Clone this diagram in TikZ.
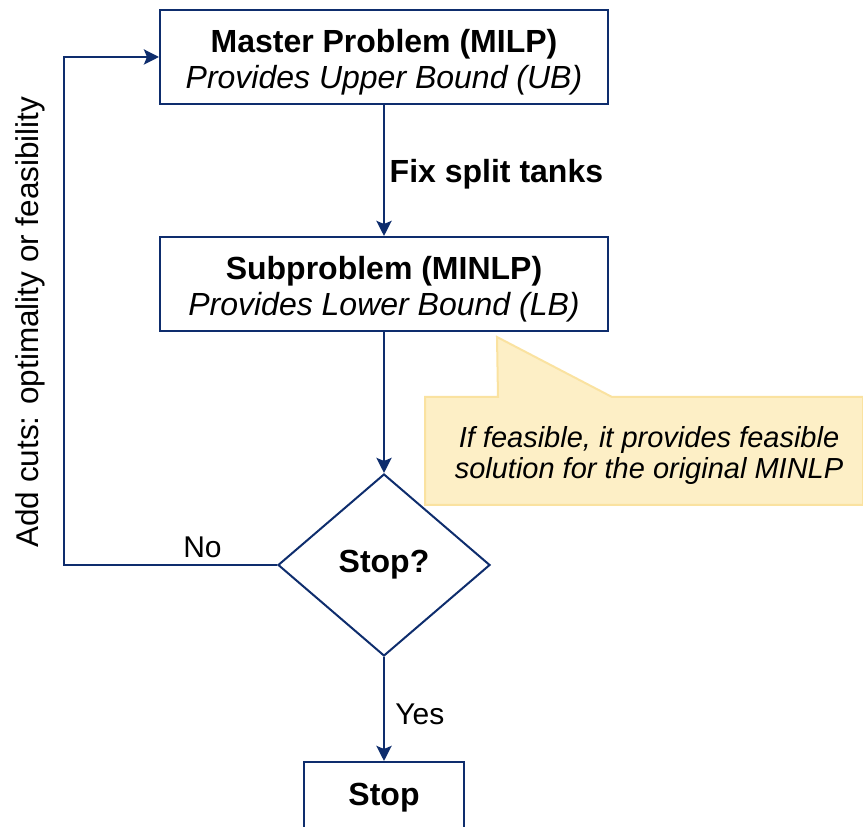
\documentclass[tikz,border=0pt]{standalone}
\usepackage{fontspec}
\setmainfont{Liberation Sans}
\usetikzlibrary{positioning,shapes.geometric,arrows.meta}
\definecolor{navy}{HTML}{0E2D6D}
\definecolor{notefill}{HTML}{FDEFC6}
\definecolor{noteline}{HTML}{FAE2A0}
\newcommand{\topgap}{\rule{0pt}{34pt}}

\begin{document}
\begin{tikzpicture}[x=1pt, y=1pt,
  every node/.style = {align=center, font=\fontsize{32}{36}\selectfont},
  box/.style = {shape=rectangle, draw=navy, line width=2pt, minimum width=448pt, minimum height=94pt, inner sep=0pt},
  decision/.style = {shape=diamond, draw=navy, line width=2pt, minimum width=212pt, minimum height=182pt, inner sep=0pt},
  arrow/.style = {draw=navy, line width=2.8pt, -{Stealth[length=15pt, width=15pt, inset=3pt]}},
  label/.style = {inner sep=2pt, font=\fontsize{30}{34}\selectfont}
  ]
  \useasboundingbox (0,0) rectangle (863,827);

  \node[box] (master) at (384,770) {\topgap\textbf{Master Problem (MILP)}\\ \textit{Provides Upper Bound (UB)}};
  \node[box, below=131pt of master] (sub) {\topgap\textbf{Subproblem (MINLP)}\\ \textit{Provides Lower Bound (LB)}};
  \node[decision, below=141pt of sub] (stopq) {\textbf{Stop?}};
  \node[box, minimum width=160pt, minimum height=72pt, below=104pt of stopq] (stop) {\textbf{Stop}};
  \coordinate (back) at (64,0);

  % callout
  \coordinate (tip) at (497,490);
  \filldraw[fill=notefill, draw=noteline, line width=2pt]
    (425,430) -- (498,430) -- (tip) -- (612,430) -- (863,430) -- (863,322) -- (425,322) -- cycle;
  \node[font=\fontsize{29}{31}\selectfont\itshape] (note) at (649,371) {If feasible, it provides feasible\\ solution for the original MINLP};

  \draw[arrow] (master) -- node[right=1pt, pos=0.53, font=\fontsize{32}{36}\selectfont\bfseries] (fix) {Fix split tanks} (sub);
  \draw[arrow] (sub) -- (stopq);
  \draw[arrow] (stopq) -- node[label, right=8pt, pos=0.55] (yes) {Yes} (stop);
  \draw[arrow] (stopq.west) -- node[label, above=4pt, pos=0.35] (no) {No} (stopq.west -| back) |- (master.west);
  \node[rotate=90, font=\fontsize{31.5}{36}\selectfont] (cuts) at (30,505) {Add cuts: optimality or feasibility};
\end{tikzpicture}
\end{document}
